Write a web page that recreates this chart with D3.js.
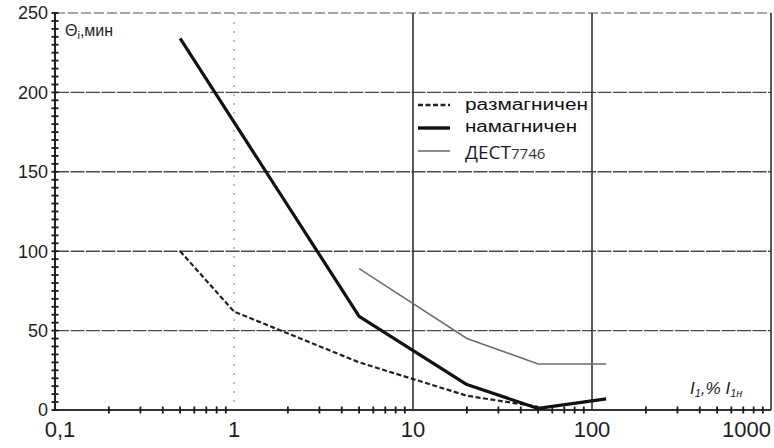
<!DOCTYPE html>
<html>
<head>
<meta charset="utf-8">
<script src="https://cdn.jsdelivr.net/npm/d3@7"></script>
<style>
  body { margin: 0; background: #fff; }
  svg { display: block; font-family: "Liberation Sans", Arial, sans-serif; }
</style>
</head>
<body>
<svg id="chart" width="774" height="448"></svg>
<script>
// data
const xTicks = [0.1, 1, 10, 100, 1000];
const xTickLabels = ["0,1", "1", "10", "100", "1000"];
const yTicks = [0, 50, 100, 150, 200, 250];

const demagnetized = [[0.5, 100], [1, 62], [5, 30], [20, 9], [50, 2]];
const magnetized = [[0.5, 234], [5, 59], [20, 16], [50, 1], [120, 7]];
const dest7746 = [[5, 89], [20, 45], [50, 29], [120, 29]];

const svg = d3.select("#chart");

const x = d3.scaleLog()
  .domain([0.1, 1000])
  .range([55, 771]);

const y = d3.scaleLinear()
  .domain([0, 250])
  .range([410, 13]);

// grid
const grid = svg.append("g");

grid.selectAll("line.h")
  .data(yTicks.filter(d => d > 0))
  .enter()
  .append("line")
  .attr("x1", x(0.1))
  .attr("x2", x(1000))
  .attr("y1", d => y(d))
  .attr("y2", d => y(d))
  .attr("stroke", d => d == 250 ? "#8a8a8a" : "#4a4a4a")
  .attr("stroke-width", d => d == 250 ? 1.5 : 1.4)
  .attr("stroke-dasharray", d => d == 250 ? "10,3" : "14,1.5");

grid.selectAll("line.v")
  .data(xTicks.filter(d => d > 0.1))
  .enter()
  .append("line")
  .attr("x1", d => x(d))
  .attr("x2", d => x(d))
  .attr("y1", y(250))
  .attr("y2", y(0))
  .attr("stroke", d => d == 1 ? "#9a9a9a" : "#333")
  .attr("stroke-width", d => d == 1 ? 1.3 : 1.6)
  .attr("stroke-dasharray", d => d == 1 ? "2,7" : null);

// axis lines
svg.append("line")
  .attr("x1", x(0.1)).attr("x2", x(1000))
  .attr("y1", y(0)).attr("y2", y(0))
  .attr("stroke", "#333").attr("stroke-width", 1.8);

svg.append("line")
  .attr("x1", x(0.1)).attr("x2", x(0.1))
  .attr("y1", y(250)).attr("y2", y(0))
  .attr("stroke", "#222").attr("stroke-width", 2);

// small crossing ticks
svg.append("g")
  .selectAll("line")
  .data(d3.range(0, 251, 5))
  .enter()
  .append("line")
  .attr("x1", x(0.1) - 3.5)
  .attr("x2", x(0.1) + 3.5)
  .attr("y1", d => y(d))
  .attr("y2", d => y(d))
  .attr("stroke", "#1a1a1a")
  .attr("stroke-width", 1.8);

let minor = [];
[0.1, 1, 10, 100].forEach(dec => {
  for (let k = 2; k <= 9; k++) minor.push(dec * k);
});

svg.append("g")
  .selectAll("line")
  .data(minor)
  .enter()
  .append("line")
  .attr("x1", d => x(d))
  .attr("x2", d => x(d))
  .attr("y1", y(0) - 3.5)
  .attr("y2", y(0) + 3.5)
  .attr("stroke", "#1a1a1a")
  .attr("stroke-width", 1.8);

// tick labels
svg.append("g")
  .selectAll("text")
  .data(yTicks)
  .enter()
  .append("text")
  .attr("x", 48)
  .attr("y", d => y(d))
  .attr("dy", "0.36em")
  .attr("text-anchor", "end")
  .attr("font-size", 18)
  .attr("fill", "#1e1e1e")
  .text(d => d);

svg.append("g")
  .selectAll("text")
  .data(xTicks)
  .enter()
  .append("text")
  .attr("x", (d, i) => x(d) + (i == 0 ? 5 : 0))
  .attr("y", 437)
  .attr("text-anchor", (d, i) => i == xTicks.length - 1 ? "end" : "middle")
  .attr("font-size", 22)
  .attr("fill", "#1e1e1e")
  .text((d, i) => xTickLabels[i]);

// curves
const line = d3.line()
  .x(d => x(d[0]))
  .y(d => y(d[1]));

svg.append("path")
  .attr("d", line(dest7746))
  .attr("fill", "none")
  .attr("stroke", "#6e6e6e")
  .attr("stroke-width", 1.6);

svg.append("path")
  .attr("d", line(demagnetized))
  .attr("fill", "none")
  .attr("stroke", "#222")
  .attr("stroke-width", 2.2)
  .attr("stroke-dasharray", "5,2.5");

svg.append("path")
  .attr("d", line(magnetized))
  .attr("fill", "none")
  .attr("stroke", "#111")
  .attr("stroke-width", 3.2)
  .attr("stroke-linejoin", "round");

// axis titles
const yTitle = svg.append("text")
  .attr("x", 65)
  .attr("y", 36)
  .attr("font-size", 16)
  .attr("fill", "#1e1e1e");
yTitle.append("tspan").text("Θ");
yTitle.append("tspan").attr("font-size", 11).attr("dy", 3).text("i");
yTitle.append("tspan").attr("dy", -3).text(",мин");

const xTitle = svg.append("text")
  .attr("x", 690)
  .attr("y", 394)
  .attr("font-size", 17)
  .attr("font-style", "italic")
  .attr("fill", "#1e1e1e");
xTitle.append("tspan").text("I");
xTitle.append("tspan").attr("font-size", 11).attr("dy", 3).text("1");
xTitle.append("tspan").attr("dy", -3).text(",% I");
xTitle.append("tspan").attr("font-size", 11).attr("dy", 3).text("1н");

// legend
const legend = svg.append("g");
const legendRows = [
  { y: 105, dash: "5,2.5", w: 2.4, c: "#222" },
  { y: 128, dash: null, w: 3.4, c: "#111" },
  { y: 151, dash: null, w: 1.6, c: "#6e6e6e" }
];
legend.selectAll("line")
  .data(legendRows)
  .enter()
  .append("line")
  .attr("x1", 418).attr("x2", 450)
  .attr("y1", d => d.y).attr("y2", d => d.y)
  .attr("stroke", d => d.c)
  .attr("stroke-width", d => d.w)
  .attr("stroke-dasharray", d => d.dash);

legend.append("text")
  .attr("x", 465).attr("y", 110)
  .attr("font-size", 16)
  .attr("textLength", 123).attr("lengthAdjust", "spacingAndGlyphs")
  .attr("fill", "#111")
  .text("размагничен");

legend.append("text")
  .attr("x", 465).attr("y", 132)
  .attr("font-size", 16)
  .attr("textLength", 112).attr("lengthAdjust", "spacingAndGlyphs")
  .attr("fill", "#111")
  .text("намагничен");

const dest = legend.append("text")
  .attr("x", 465).attr("y", 159)
  .attr("fill", "#1a1a30");
dest.append("tspan").attr("font-size", 19).attr("font-family", "Open Sans, sans-serif").text("ДЕСТ");
dest.append("tspan").attr("font-size", 15).attr("fill", "#2e3446").attr("font-family", "Open Sans, sans-serif").text("7746");
</script>
</body>
</html>
